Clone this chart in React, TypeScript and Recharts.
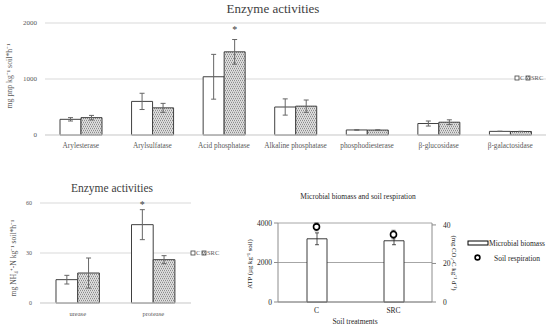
import React from "react";
import {
  BarChart,
  ComposedChart,
  Bar,
  Line,
  XAxis,
  YAxis,
  CartesianGrid,
  ErrorBar,
  LabelList,
} from "recharts";

// Soil enzyme activities (C vs SRC), N-cycle enzymes, and microbial biomass /
// respiration. Three panels laid out on one 550x327 canvas.

const enzymes = [
  "Arylesterase",
  "Arylsulfatase",
  "Acid phosphatase",
  "Alkaline phosphatase",
  "phosphodiesterase",
  "β-glucosidase",
  "β-galactosidase",
];
const enzC = [280, 600, 1040, 500, 90, 205, 65];
const enzCErr = [30, 145, 400, 145, 4, 45, 3];
const enzSRC = [310, 485, 1485, 515, 88, 228, 63];
const enzSRCErr = [40, 80, 220, 110, 4, 43, 3];
const enzSig = ["", "", "*", "", "", "", ""];

const nEnzymes = ["urease", "protease"];
const nC = [14, 47];
const nCErr = [2.6, 9];
const nSRC = [18, 26];
const nSRCErr = [9, 2.4];
const nSig = ["", "*"];

const treatments = ["C", "SRC"];
const atp = [3200, 3100];
const atpErr = [300, 200];
const resp = [39, 35];
const respErr = [2, 2.2];

const enzData = enzymes.map((name, i) => ({
  name,
  c: enzC[i],
  cErr: enzCErr[i],
  src: enzSRC[i],
  srcErr: enzSRCErr[i],
  sig: enzSig[i] || null,
}));

const nData = nEnzymes.map((name, i) => ({
  name,
  c: nC[i],
  cErr: nCErr[i],
  src: nSRC[i],
  srcErr: nSRCErr[i],
  sig: nSig[i] || null,
}));

const bioData = treatments.map((name, i) => ({
  name,
  atp: atp[i],
  atpErr: atpErr[i],
  resp: resp[i],
  respErr: respErr[i],
}));

const FONT = "'Liberation Serif', 'Times New Roman', serif";
const TEXT = "#404040";
const TICK = "#595959";
const GRID = "#d9d9d9";
const EDGE = "#404040";
const ERR = "#666666";
const DARK = "#262626";
const FRAME = "#8c8c8c";
const PATTERN = "url(#srcDots)";

const tickStyle = (size: number, fill = TICK) => ({
  fontSize: size,
  fill,
  fontFamily: FONT,
});

function LegendPair({ x, y }: { x: number; y: number }) {
  return (
    <g fontFamily={FONT} fontSize={6.5} fill={TICK}>
      <rect x={x} y={y - 2} width={4} height={4} fill="#fff" stroke={EDGE} strokeWidth={0.8} />
      <text x={x + 5} y={y + 2.3}>C</text>
      <rect x={x + 11} y={y - 2} width={4} height={4} fill={PATTERN} stroke={EDGE} strokeWidth={0.8} />
      <text x={x + 16} y={y + 2.3}>SRC</text>
    </g>
  );
}

export default function App() {
  return (
    <div
      style={{
        position: "absolute",
        left: 0,
        top: 0,
        width: 550,
        height: 327,
        background: "#fff",
        fontFamily: FONT,
      }}
    >
      <svg width={0} height={0} style={{ position: "absolute" }}>
        <defs>
          <pattern id="srcDots" width={4} height={4} patternUnits="userSpaceOnUse">
            <rect width={4} height={4} fill="#e6e6e6" />
            <rect x={0} y={1} width={4} height={1} fill="#cfcfcf" />
            <rect x={0} y={3} width={4} height={1} fill="#cfcfcf" />
            <rect x={0} y={0} width={1} height={1} fill="#8c8c8c" />
            <rect x={2} y={0} width={1} height={1} fill="#8c8c8c" />
            <rect x={1} y={2} width={1} height={1} fill="#8c8c8c" />
            <rect x={3} y={2} width={1} height={1} fill="#8c8c8c" />
          </pattern>
        </defs>
      </svg>

      {/* top: carbon / phosphorus / sulphur enzymes */}
      <div style={{ position: "absolute", left: 0, top: 0 }}>
        <BarChart
          width={550}
          height={155}
          data={enzData}
          margin={{ top: 23, right: 4, bottom: 0, left: 0 }}
          barGap={0}
        >
          <CartesianGrid vertical={false} stroke={GRID} />
          <XAxis
            dataKey="name"
            height={20}
            interval={0}
            tickLine={false}
            axisLine={{ stroke: GRID }}
            tick={tickStyle(7.3)}
          />
          <YAxis
            width={45}
            domain={[0, 2000]}
            ticks={[0, 1000, 2000]}
            axisLine={false}
            tickLine={false}
            tick={tickStyle(7)}
          />
          <Bar dataKey="c" barSize={21} fill="#fff" stroke={EDGE} strokeWidth={1} isAnimationActive={false}>
            <ErrorBar dataKey="cErr" width={2.5} stroke={ERR} strokeWidth={1} />
          </Bar>
          <Bar dataKey="src" barSize={21} fill={PATTERN} stroke={EDGE} strokeWidth={1} isAnimationActive={false}>
            <ErrorBar dataKey="srcErr" width={2.5} stroke={ERR} strokeWidth={1} />
            <LabelList dataKey="sig" position="top" offset={19} style={{ fontSize: 10, fill: TEXT, fontFamily: FONT }} />
          </Bar>
        </BarChart>
      </div>

      {/* bottom left: N-cycle enzymes */}
      <div style={{ position: "absolute", left: 0, top: 170 }}>
        <BarChart
          width={250}
          height={150}
          data={nData}
          margin={{ top: 33, right: 59, bottom: 1, left: 0 }}
          barGap={0}
        >
          <CartesianGrid vertical={false} stroke={GRID} />
          <XAxis
            dataKey="name"
            height={16}
            tickLine={false}
            axisLine={{ stroke: GRID }}
            tick={tickStyle(6.5)}
          />
          <YAxis
            width={40}
            domain={[0, 60]}
            ticks={[0, 30, 60]}
            axisLine={false}
            tickLine={false}
            tick={tickStyle(6)}
          />
          <Bar dataKey="c" barSize={21.7} fill="#fff" stroke={EDGE} strokeWidth={1} isAnimationActive={false}>
            <ErrorBar dataKey="cErr" width={2.5} stroke={ERR} strokeWidth={1} />
            <LabelList dataKey="sig" position="top" offset={17} style={{ fontSize: 10, fill: TEXT, fontFamily: FONT }} />
          </Bar>
          <Bar dataKey="src" barSize={21.7} fill={PATTERN} stroke={EDGE} strokeWidth={1} isAnimationActive={false}>
            <ErrorBar dataKey="srcErr" width={2.5} stroke={ERR} strokeWidth={1} />
          </Bar>
        </BarChart>
      </div>

      {/* bottom right: biomass (bars, left axis) and respiration (dots, right axis) */}
      <div style={{ position: "absolute", left: 230, top: 170 }}>
        <ComposedChart
          width={320}
          height={157}
          data={bioData}
          margin={{ top: 53, right: 78, bottom: 0, left: 0 }}
        >
          <CartesianGrid vertical={false} stroke="#a6a6a6" yAxisId="left" />
          <XAxis
            dataKey="name"
            height={25}
            tickLine={false}
            tickSize={0}
            tickMargin={6}
            axisLine={{ stroke: FRAME }}
            tick={tickStyle(7.5, DARK)}
          />
          <YAxis
            yAxisId="left"
            width={48}
            domain={[0, 4000]}
            ticks={[0, 2000, 4000]}
            tickSize={4}
            tickMargin={2}
            stroke={FRAME}
            axisLine={{ stroke: FRAME }}
            tickLine={{ stroke: FRAME }}
            tick={tickStyle(7.5, DARK)}
          />
          <YAxis
            yAxisId="right"
            orientation="right"
            width={40}
            domain={[0, 40]}
            ticks={[0, 20, 40]}
            tickSize={4}
            tickMargin={7}
            stroke={FRAME}
            axisLine={{ stroke: FRAME }}
            tickLine={{ stroke: FRAME }}
            tick={tickStyle(7.5, DARK)}
          />
          <Bar yAxisId="left" dataKey="atp" barSize={20} fill="#fff" stroke={DARK} strokeWidth={0.9} isAnimationActive={false}>
            <ErrorBar dataKey="atpErr" width={2} stroke={DARK} strokeWidth={0.8} />
          </Bar>
          <Line
            yAxisId="right"
            dataKey="resp"
            stroke="none"
            dot={{ r: 3, stroke: "#000", strokeWidth: 1.6, fill: "#fff" }}
            activeDot={false}
            isAnimationActive={false}
          >
            <ErrorBar dataKey="respErr" width={2} stroke={DARK} strokeWidth={0.8} />
          </Line>
        </ComposedChart>
      </div>

      {/* titles, axis titles and legends */}
      <svg
        width={550}
        height={327}
        style={{ position: "absolute", left: 0, top: 0, pointerEvents: "none" }}
        fontFamily={FONT}
      >
        <text x={273} y={12.5} fontSize={13} fill={TEXT} textAnchor="middle">
          Enzyme activities
        </text>
        <text
          x={9}
          y={76}
          fontSize={7.8}
          fill={TICK}
          textAnchor="middle"
          dominantBaseline="central"
          transform="rotate(-90 9 76)"
        >
          mg pnp kg⁻¹ soil*h⁻¹
        </text>
        <LegendPair x={515} y={78} />

        <text x={112} y={192} fontSize={11.5} fill={TEXT} textAnchor="middle">
          Enzyme activities
        </text>
        <text
          x={13}
          y={258}
          fontSize={7.6}
          fill={TICK}
          textAnchor="middle"
          dominantBaseline="central"
          transform="rotate(-90 13 258)"
        >
          mg NH₄⁺-N kg⁻¹ soil*h⁻¹
        </text>
        <LegendPair x={191} y={253} />

        <text x={358} y={198.5} fontSize={7.5} fill={DARK} textAnchor="middle">
          Microbial biomass and soil respiration
        </text>
        <text
          x={249}
          y={264}
          fontSize={6.8}
          fill={DARK}
          textAnchor="middle"
          dominantBaseline="central"
          transform="rotate(-90 249 264)"
        >
          ATP (µg kg⁻¹ soil)
        </text>
        <text
          x={454}
          y={263}
          fontSize={6.8}
          fill={DARK}
          textAnchor="middle"
          dominantBaseline="central"
          transform="rotate(90 454 263)"
        >
          (mg CO₂-C kg⁻¹ d⁻¹)
        </text>
        <text x={355} y={323.5} fontSize={7.5} fill={DARK} textAnchor="middle">
          Soil treatments
        </text>

        <rect x={468} y={241} width={20} height={4} fill="#fff" stroke="#000" strokeWidth={1} />
        <text x={489} y={246} fontSize={7.5} fill={DARK}>
          Microbial biomass
        </text>
        <circle cx={477.5} cy={257.5} r={2.4} fill="#fff" stroke="#000" strokeWidth={1.6} />
        <text x={494} y={260.5} fontSize={7.5} fill={DARK}>
          Soil respiration
        </text>
      </svg>
    </div>
  );
}
